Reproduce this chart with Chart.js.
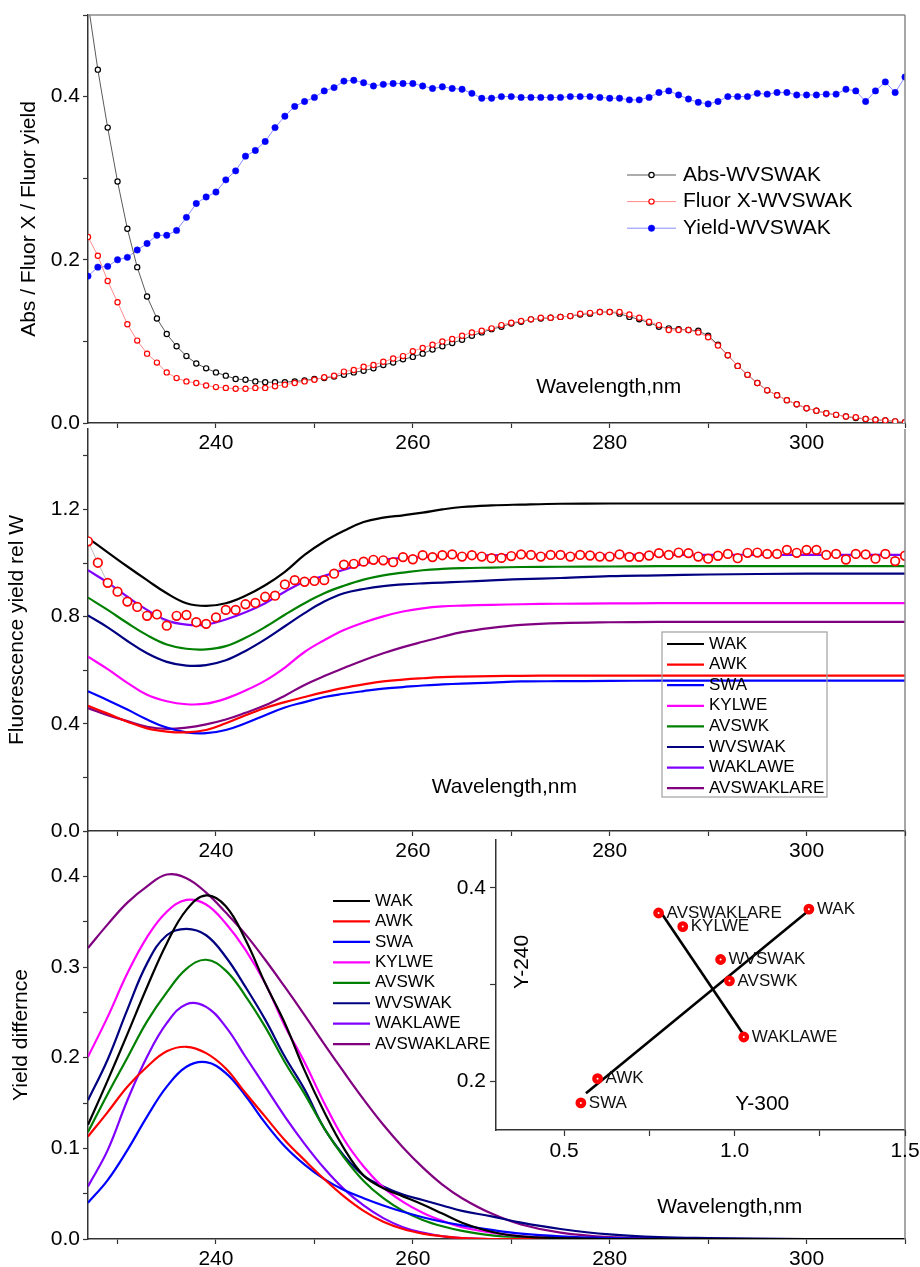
<!DOCTYPE html>
<html>
<head>
<meta charset="utf-8">
<script src="https://cdn.jsdelivr.net/npm/chart.js@4.4.1/dist/chart.umd.min.js"></script>
<style>
  body { margin: 0; background: #fff; }
  #wrap { position: relative; width: 920px; height: 1267px; overflow: hidden; background: #fff; }
  canvas { position: absolute; }
</style>
</head>
<body>
<div id="wrap">
  <canvas id="panel3" width="920" height="436" style="left:0;top:831px;z-index:1"></canvas>
  <canvas id="inset" width="480" height="340" style="left:440px;top:831px;z-index:2"></canvas>
  <canvas id="panel2" width="920" height="450" style="left:0;top:423px;z-index:3"></canvas>
  <canvas id="panel1" width="920" height="465" style="left:0;top:0;z-index:4"></canvas>
</div>
<script>
// wavelength grid of the measured spectra (1 nm steps)
const wl = [227,228,229,230,231,232,233,234,235,236,237,238,239,240,241,242,243,244,245,246,
  247,248,249,250,251,252,253,254,255,256,257,258,259,260,261,262,263,264,265,266,
  267,268,269,270,271,272,273,274,275,276,277,278,279,280,281,282,283,284,285,286,
  287,288,289,290,291,292,293,294,295,296,297,298,299,300,301,302,303,304,305,306,
  307,308,309,310];

const absWV = [.515,.433,.362,.296,.238,.191,.155,.128,.109,.094,
  .082,.073,.067,.062,.058,.054,.053,.051,.050,.050,
  .050,.051,.052,.054,.055,.057,.059,.062,.064,.067,
  .071,.074,.078,.081,.085,.090,.094,.098,.102,.107,
  .111,.115,.118,.122,.124,.127,.128,.129,.130,.131,
  .133,.134,.136,.136,.134,.130,.127,.123,.118,.116,
  .115,.114,.113,.107,.096,.083,.070,.059,.049,.040,
  .034,.028,.023,.018,.015,.012,.010,.008,.006,.005,
  .004,.003,.002,.001];

const fluorWV = [.228,.205,.174,.148,.121,.101,.085,.074,.062,.055,
  .051,.049,.046,.044,.043,.042,.042,.043,.043,.045,
  .047,.049,.051,.053,.056,.058,.063,.065,.069,.071,
  .075,.079,.082,.088,.092,.096,.100,.103,.107,.111,
  .113,.116,.120,.123,.125,.127,.129,.129,.130,.131,
  .134,.135,.136,.136,.136,.133,.129,.124,.120,.114,
  .114,.114,.111,.105,.095,.083,.070,.059,.049,.040,
  .034,.028,.023,.018,.015,.012,.010,.008,.007,.005,
  .004,.003,.002,.001];

const yieldWV = [.180,.191,.192,.200,.203,.212,.220,.230,.230,.236,
  .252,.269,.277,.283,.298,.309,.327,.334,.345,.362,
  .376,.388,.394,.399,.407,.411,.419,.420,.417,.413,
  .415,.416,.416,.416,.413,.410,.412,.410,.409,.404,
  .398,.398,.400,.400,.399,.399,.399,.399,.399,.400,
  .400,.400,.399,.398,.398,.396,.396,.399,.405,.407,
  .402,.397,.393,.391,.394,.400,.400,.400,.404,.403,
  .405,.405,.402,.402,.402,.403,.403,.409,.407,.394,
  .407,.418,.405,.424];

// measured relative fluorescence yield (red circles, middle panel)
const measuredRelW = [1.081,1.001,0.926,0.893,0.856,0.836,0.803,0.808,0.766,0.803,
  0.806,0.779,0.773,0.797,0.825,0.825,0.846,0.851,0.874,0.878,
  0.920,0.936,0.930,0.933,0.936,0.960,0.994,0.997,1.005,1.012,
  1.010,1.003,1.022,1.014,1.029,1.022,1.029,1.032,1.024,1.029,
  1.024,1.018,1.019,1.026,1.032,1.030,1.024,1.030,1.030,1.024,
  1.030,1.028,1.024,1.024,1.032,1.023,1.023,1.028,1.037,1.030,
  1.039,1.037,1.024,1.016,1.027,1.034,1.018,1.038,1.039,1.034,
  1.034,1.049,1.038,1.049,1.049,1.030,1.034,1.013,1.034,1.032,
  1.016,1.034,1.007,1.027];

// wavelength grid of the model curves
const wlc = [227,229,231,233,235,237,239,241,243,245,247,249,251,253,255,257,259,261,263,265,268,271,275,280,285,290,300,310];

const peptides = ['WAK','AWK','SWA','KYLWE','AVSWK','WVSWAK','WAKLAWE','AVSWAKLARE'];
const colors = ['#000000','#ff0000','#0000ff','#ff00ff','#008000','#000080','#8000ff','#800080'];

// fluorescence yield relative to W
const relW = [
  [1.093,1.040,0.987,0.936,0.887,0.850,0.840,0.850,0.878,0.917,0.967,1.030,1.080,1.120,1.153,1.169,1.178,1.188,1.200,1.209,1.215,1.218,1.221,1.222,1.222,1.222,1.222,1.222],
  [0.467,0.438,0.408,0.383,0.371,0.368,0.377,0.402,0.432,0.459,0.481,0.500,0.518,0.534,0.547,0.558,0.565,0.570,0.574,0.576,0.578,0.579,0.580,0.580,0.580,0.580,0.580,0.580],
  [0.521,0.488,0.453,0.416,0.386,0.368,0.365,0.377,0.402,0.432,0.461,0.481,0.500,0.512,0.522,0.531,0.537,0.543,0.547,0.550,0.554,0.558,0.559,0.560,0.561,0.561,0.561,0.561],
  [0.650,0.604,0.553,0.508,0.484,0.473,0.475,0.494,0.524,0.561,0.610,0.668,0.712,0.750,0.778,0.801,0.819,0.831,0.838,0.841,0.844,0.846,0.848,0.849,0.850,0.850,0.850,0.850],
  [0.871,0.825,0.776,0.731,0.696,0.680,0.678,0.690,0.721,0.761,0.807,0.850,0.887,0.915,0.938,0.954,0.964,0.973,0.978,0.981,0.983,0.985,0.986,0.987,0.988,0.988,0.988,0.988],
  [0.804,0.760,0.709,0.663,0.631,0.617,0.619,0.637,0.672,0.715,0.764,0.813,0.856,0.887,0.903,0.914,0.920,0.924,0.927,0.930,0.935,0.940,0.944,0.951,0.954,0.957,0.960,0.960],
  [0.973,0.927,0.874,0.825,0.786,0.770,0.770,0.789,0.816,0.850,0.893,0.930,0.952,0.975,0.997,1.012,1.019,1.022,1.026,1.028,1.029,1.030,1.030,1.030,1.030,1.030,1.030,1.030],
  [0.459,0.432,0.410,0.389,0.381,0.386,0.398,0.416,0.441,0.469,0.505,0.545,0.578,0.608,0.637,0.663,0.686,0.706,0.725,0.742,0.758,0.769,0.776,0.779,0.780,0.780,0.780,0.780]
];

// yield difference
const yieldDiff = [
  [.126,.175,.226,.278,.326,.363,.379,.367,.330,.282,.238,.186,.140,.100,.070,.056,.047,.038,.028,.018,.008,.003,.001,0,0,0,0,0],
  [.113,.140,.168,.190,.207,.212,.205,.188,.161,.135,.109,.087,.066,.047,.031,.019,.011,.006,.003,.001,0,0,0,0,0,0,0,0],
  [.040,.065,.098,.135,.168,.190,.195,.183,.158,.128,.102,.082,.066,.054,.045,.037,.030,.024,.019,.015,.010,.006,.003,.001,0,0,0,0],
  [.201,.245,.293,.333,.361,.374,.369,.348,.319,.282,.235,.195,.150,.110,.080,.057,.041,.029,.020,.013,.007,.003,.001,0,0,0,0,0],
  [.118,.160,.200,.240,.272,.298,.308,.296,.268,.234,.195,.160,.122,.090,.064,.045,.031,.021,.014,.009,.004,.002,.001,0,0,0,0,0],
  [.153,.198,.253,.304,.335,.342,.335,.311,.278,.242,.201,.165,.122,.092,.070,.058,.049,.043,.037,.031,.025,.018,.011,.005,.002,.001,0,0],
  [.058,.098,.153,.201,.238,.259,.256,.234,.201,.168,.135,.105,.078,.055,.037,.023,.013,.007,.003,.001,0,0,0,0,0,0,0,0],
  [.321,.347,.371,.389,.402,.398,.382,.360,.336,.308,.278,.247,.215,.184,.154,.126,.101,.079,.060,.045,.028,.016,.007,.002,.001,0,0,0]
];

// inset: Y-300 vs Y-240
const insetNames = ['SWA','AWK','AVSWAKLARE','KYLWE','WVSWAK','AVSWK','WAKLAWE','WAK'];
const insetY300 = [0.549,0.598,0.777,0.848,0.959,0.985,1.027,1.218];
const insetY240 = [0.178,0.203,0.374,0.360,0.326,0.304,0.246,0.378];
const fitLineX = [0.564,1.216];
const fitLineY = [0.188,0.376];
const pairLineX = [0.785,1.029];
const pairLineY = [0.374,0.247];

Chart.defaults.font.family = 'Arial, "Liberation Sans", sans-serif';
Chart.defaults.color = '#000';
Chart.defaults.animation = false;
Chart.defaults.events = [];

const pts = (xs, ys) => xs.map((x, i) => ({x: x, y: ys[i]}));
const onStep = (v, step) => Math.abs(v / step - Math.round(v / step)) < 1e-6;

function linAxis(o) {
  return {
    type: 'linear',
    min: o.min,
    max: o.max,
    // ticks on every multiple of the minor step inside the range
    afterBuildTicks: s => {
      const t = [];
      for (let k = Math.ceil(o.min / o.step - 1e-9); k * o.step <= o.max + 1e-9; k++) {
        t.push({value: +(k * o.step).toFixed(6)});
      }
      s.ticks = t;
    },
    afterFit: s => {
      if (o.width) s.width = o.width;
      if (o.height) s.height = o.height;
      s.paddingTop = 0; s.paddingBottom = 0; s.paddingLeft = 0; s.paddingRight = 0;
    },
    ticks: {
      stepSize: o.step, autoSkip: false, maxRotation: 0, padding: o.pad || 3,
      font: {size: 21}, color: '#000',
      callback: v => onStep(v, o.label) ? v.toFixed(o.dec) : ''
    },
    grid: {drawOnChartArea: false, tickLength: o.tick || 5, tickColor: '#333', tickWidth: 1.2},
    border: {color: '#333', width: 1.5},
    title: o.title
      ? {display: true, text: o.title, font: {size: 21}, color: '#000', padding: {top: o.titlePad, bottom: 0}}
      : {display: false}
  };
}

// grey frame on top/right, optional white plot background
const frame = {
  id: 'frame',
  beforeDraw(chart, args, o) {
    if (!o.fill) return;
    const a = chart.chartArea, ctx = chart.ctx;
    ctx.save();
    ctx.fillStyle = '#fff';
    ctx.fillRect(a.left, a.top, a.right - a.left, a.bottom - a.top);
    ctx.restore();
  },
  afterDraw(chart, args, o) {
    const a = chart.chartArea, ctx = chart.ctx;
    ctx.save();
    ctx.strokeStyle = '#8a8a8a';
    ctx.lineWidth = 1.5;
    ctx.beginPath();
    if (o.top) { ctx.moveTo(a.left, a.top); ctx.lineTo(a.right, a.top); }
    ctx.moveTo(a.right, a.top); ctx.lineTo(a.right, a.bottom);
    ctx.stroke();
    ctx.restore();
  }
};

const boxLegend = {
  id: 'boxLegend',
  afterDraw(chart, args, o) {
    if (!o.show) return;
    const ctx = chart.ctx;
    const items = chart.data.datasets.filter(d => !d.noLegend);
    ctx.save();
    if (o.box) {
      ctx.strokeStyle = '#a0a0a0';
      ctx.lineWidth = 1.2;
      ctx.strokeRect(o.box[0], o.box[1], o.box[2], o.box[3]);
    }
    ctx.font = o.fontSize + 'px Arial, "Liberation Sans", sans-serif';
    ctx.textBaseline = 'middle';
    items.forEach((d, i) => {
      const y = o.y + i * o.rowHeight;
      ctx.strokeStyle = d.borderColor;
      ctx.lineWidth = d.borderWidth;
      ctx.beginPath();
      ctx.moveTo(o.x, y);
      ctx.lineTo(o.x + o.lineLength, y);
      ctx.stroke();
      if (o.markers && d.pointRadius) {
        ctx.beginPath();
        ctx.arc(o.x + o.lineLength / 2, y, d.pointRadius, 0, Math.PI * 2);
        ctx.fillStyle = d.pointBackgroundColor;
        ctx.fill();
        ctx.lineWidth = d.pointBorderWidth;
        ctx.strokeStyle = d.pointBorderColor;
        ctx.stroke();
      }
      ctx.fillStyle = '#000';
      ctx.fillText(d.label, o.x + o.lineLength + o.gap, y);
    });
    ctx.restore();
  }
};

const notes = {
  id: 'notes',
  afterDatasetsDraw(chart, args, o) {
    if (!o.items) return;
    const ctx = chart.ctx, xs = chart.scales.x, ys = chart.scales.y;
    o.items.forEach(n => {
      ctx.save();
      ctx.font = (n.size || 21) + 'px Arial, "Liberation Sans", sans-serif';
      ctx.fillStyle = '#000';
      ctx.textAlign = 'center';
      ctx.textBaseline = 'middle';
      ctx.translate(xs.getPixelForValue(n.x), ys.getPixelForValue(n.y));
      if (n.rotate) ctx.rotate(n.rotate);
      ctx.fillText(n.text, 0, 0);
      ctx.restore();
    });
  }
};

const pointNames = {
  id: 'pointNames',
  afterDatasetsDraw(chart, args, o) {
    if (!o.names) return;
    const ctx = chart.ctx;
    const meta = chart.getDatasetMeta(0);
    ctx.save();
    ctx.font = o.fontSize + 'px Arial, "Liberation Sans", sans-serif';
    ctx.fillStyle = '#111';
    ctx.textBaseline = 'middle';
    meta.data.forEach((p, i) => ctx.fillText(o.names[i], p.x + o.dx, p.y));
    ctx.restore();
  }
};

const plugins = [frame, boxLegend, notes, pointNames];

// ---- top panel: absorbance, fluorescence, yield ----
new Chart(document.getElementById('panel1'), {
  type: 'line',
  data: {
    datasets: [
      {label: 'Abs-WVSWAK', data: pts(wl, absWV), borderColor: '#5a5a5a', borderWidth: 1,
       pointRadius: 2.6, pointBorderWidth: 1.2, pointBorderColor: '#000', pointBackgroundColor: '#fff', order: 2},
      {label: 'Fluor X-WVSWAK', data: pts(wl, fluorWV), borderColor: '#ff8c8c', borderWidth: 1,
       pointRadius: 2.6, pointBorderWidth: 1.2, pointBorderColor: '#ff0000', pointBackgroundColor: '#fff', order: 1},
      {label: 'Yield-WVSWAK', data: pts(wl, yieldWV), borderColor: '#8c8cff', borderWidth: 1,
       pointRadius: 3.2, pointBorderWidth: 0.5, pointBorderColor: '#0000ff', pointBackgroundColor: '#0000ff', order: 3}
    ]
  },
  options: {
    responsive: false,
    layout: {padding: {top: 15, right: 15, left: 0, bottom: 0}},
    scales: {
      x: linAxis({min: 227, max: 310, step: 10, label: 20, dec: 0, height: 42}),
      y: linAxis({min: 0, max: 0.5, step: 0.1, label: 0.2, dec: 1, width: 88,
                  title: 'Abs / Fluor X / Fluor yield', titlePad: 17})
    },
    plugins: {
      legend: {display: false},
      tooltip: {enabled: false},
      frame: {top: true},
      boxLegend: {show: true, x: 627, y: 175, rowHeight: 26.6, lineLength: 49, gap: 7, fontSize: 21, markers: true},
      notes: {items: [{text: 'Wavelength,nm', x: 279.9, y: 0.044}]}
    }
  },
  plugins: plugins
});

// ---- middle panel: fluorescence yield rel W ----
const relWSets = peptides.map((p, i) => ({
  label: p, data: pts(wlc, relW[i]), borderColor: colors[i], borderWidth: 2.2,
  pointRadius: 0, tension: 0.4, order: 2 + i
}));
relWSets.push({
  label: 'WVSWAK measured', noLegend: true, data: pts(wl, measuredRelW),
  borderColor: '#a8a8a8', borderWidth: 0.8, pointRadius: 4.3, pointBorderWidth: 1.7,
  pointBorderColor: '#ff0000', pointBackgroundColor: '#fff', order: 0
});

new Chart(document.getElementById('panel2'), {
  type: 'line',
  data: {datasets: relWSets},
  options: {
    responsive: false,
    layout: {padding: {top: 0, right: 15, left: 0, bottom: 0}},
    scales: {
      x: linAxis({min: 227, max: 310, step: 10, label: 20, dec: 0, height: 42}),
      y: linAxis({min: 0, max: 1.5, step: 0.2, label: 0.4, dec: 1, width: 88,
                  title: 'Fluorescence yield rel W', titlePad: 5})
    },
    plugins: {
      legend: {display: false},
      tooltip: {enabled: false},
      frame: {},
      boxLegend: {show: true, x: 667, y: 221, rowHeight: 20.6, lineLength: 37, gap: 5, fontSize: 17,
                  box: [662, 209, 165, 165]},
      notes: {items: [{text: 'Wavelength,nm', x: 269.3, y: 0.165}]}
    }
  },
  plugins: plugins
});

// ---- bottom panel: yield difference ----
new Chart(document.getElementById('panel3'), {
  type: 'line',
  data: {
    datasets: peptides.map((p, i) => ({
      label: p, data: pts(wlc, yieldDiff[i]), borderColor: colors[i], borderWidth: 2.2,
      pointRadius: 0, tension: 0.4
    }))
  },
  options: {
    responsive: false,
    layout: {padding: {top: 0, right: 15, left: 0, bottom: 0}},
    scales: {
      x: linAxis({min: 227, max: 310, step: 10, label: 20, dec: 0, height: 28}),
      y: linAxis({min: 0, max: 0.45, step: 0.05, label: 0.1, dec: 1, width: 88,
                  title: 'Yield differnce', titlePad: 9})
    },
    plugins: {
      legend: {display: false},
      tooltip: {enabled: false},
      frame: {},
      boxLegend: {show: true, x: 333, y: 70, rowHeight: 20.45, lineLength: 37, gap: 5, fontSize: 17},
      notes: {items: [{text: 'Wavelength,nm', x: 292.2, y: 0.035}]}
    }
  },
  plugins: plugins
});

// ---- inset: Y-240 vs Y-300 ----
new Chart(document.getElementById('inset'), {
  type: 'scatter',
  data: {
    datasets: [
      {label: 'peptides', data: pts(insetY300, insetY240), pointRadius: 3.2, pointBorderWidth: 4.4,
       pointBorderColor: '#ff0000', pointBackgroundColor: '#fff', showLine: false, order: 0},
      {label: 'fit', data: pts(fitLineX, fitLineY), showLine: true, borderColor: '#000', borderWidth: 2.6,
       pointRadius: 0, order: 1},
      {label: 'pair', data: pts(pairLineX, pairLineY), showLine: true, borderColor: '#000', borderWidth: 2.6,
       pointRadius: 0, order: 1}
    ]
  },
  options: {
    responsive: false,
    layout: {padding: {top: 0, right: 15, left: 0, bottom: 0}},
    scales: {
      x: linAxis({min: 0.3, max: 1.5, step: 0.25, label: 0.5, dec: 1, height: 41, tick: 6}),
      y: linAxis({min: 0.15, max: 0.45, step: 0.1, label: 0.2, dec: 1, width: 56, tick: 6, pad: 4})
    },
    plugins: {
      legend: {display: false},
      tooltip: {enabled: false},
      frame: {fill: true},
      pointNames: {names: insetNames, dx: 8, fontSize: 17},
      notes: {items: [
        {text: 'Y-300', x: 1.081, y: 0.177},
        {text: 'Y-240', x: 0.376, y: 0.3236, rotate: -Math.PI / 2}
      ]}
    }
  },
  plugins: plugins
});
</script>
</body>
</html>
